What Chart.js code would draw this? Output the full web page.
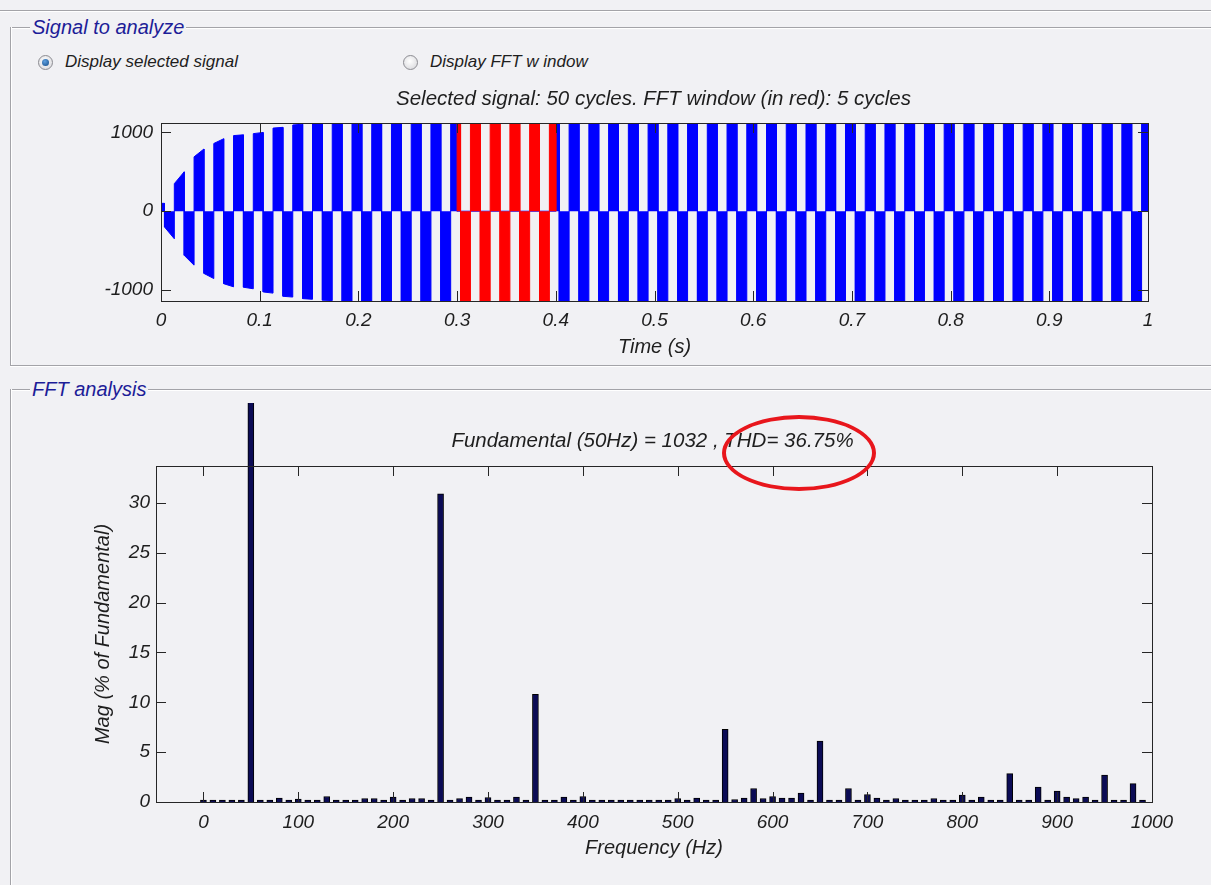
<!DOCTYPE html>
<html>
<head>
<meta charset="utf-8">
<title>Signal to analyze / FFT analysis</title>
<script src="https://cdn.jsdelivr.net/npm/chart.js@4.4.1/dist/chart.umd.min.js"></script>
<style>
  html, body { margin: 0; padding: 0; }
  body { width: 1211px; height: 885px; background: #f1f1f4; position: relative; overflow: hidden;
         font-family: 'Liberation Sans', Arial, sans-serif; }
  .rule  { position: absolute; height: 0; border-top: 1px solid #a3a3a8; box-shadow: 0 1px 0 #fff; }
  .vrule { position: absolute; width: 0; border-left: 1px solid #a3a3a8; box-shadow: 1px 0 0 #fff; }
  .panel { position: absolute; font-style: italic; font-size: 20px; line-height: 22px; color: #1d1d98;
           background: #f1f1f4; padding: 0 2px; }
  .radio { position: absolute; width: 15px; height: 15px; border-radius: 50%; box-sizing: border-box;
           border: 1px solid #8c8c92; background: radial-gradient(circle at 45% 40%, #ffffff, #d4d4d8); }
  .radio.on::after { content: ''; position: absolute; left: 3px; top: 3px; width: 7px; height: 7px;
           border-radius: 50%; background: radial-gradient(circle at 40% 35%, #5fa0e0, #134a86); }
  .opt   { position: absolute; font-style: italic; font-size: 17px; line-height: 20px; color: #1e1e1e; }
  canvas { position: absolute; left: 0; }
  #ring  { position: absolute; left: 722px; top: 415px; width: 154px; height: 76px; box-sizing: border-box;
           border: 4px solid #e8161c; border-radius: 50%; }
</style>
</head>
<body>
<div class="rule" style="left:0;top:10px;width:1211px"></div>

<div class="rule" style="left:10px;top:27px;width:1201px"></div>
<div class="vrule" style="left:10px;top:27px;height:338px"></div>
<div class="rule" style="left:10px;top:365px;width:1201px"></div>
<div class="panel" style="left:30px;top:16px">Signal to analyze</div>

<div class="radio on" style="left:38px;top:55px"></div>
<div class="opt" style="left:65px;top:52px">Display selected signal</div>
<div class="radio" style="left:403px;top:55px"></div>
<div class="opt" style="left:430px;top:52px">Display FFT w indow</div>

<div class="rule" style="left:10px;top:389px;width:1201px"></div>
<div class="vrule" style="left:10px;top:389px;height:496px"></div>
<div class="panel" style="left:30px;top:378px">FFT analysis</div>

<!-- canvases run past the right edge so the chart titles centre over the plot boxes -->
<canvas id="sigChart" width="1307" height="285" style="top:80px"></canvas>
<canvas id="fftChart" width="1305" height="490" style="top:395px"></canvas>
<div id="ring"></div>

<script>
/* powergui FFT screen: selected signal (top) and its harmonic spectrum (bottom). */

// signal: one entry per half cycle (start time s, level at start / end of the half cycle)
var HALF_T0 = [0,
  0.0035,0.0135,0.0235,0.0335,0.0435,0.0535,0.0635,0.0735,0.0835,0.0935,
  0.1035,0.1135,0.1235,0.1335,0.1435,0.1535,0.1635,0.1735,0.1835,0.1935,
  0.2035,0.2135,0.2235,0.2335,0.2435,0.2535,0.2635,0.2735,0.2835,0.2935,
  0.3035,0.3135,0.3235,0.3335,0.3435,0.3535,0.3635,0.3735,0.3835,0.3935,
  0.4035,0.4135,0.4235,0.4335,0.4435,0.4535,0.4635,0.4735,0.4835,0.4935,
  0.5035,0.5135,0.5235,0.5335,0.5435,0.5535,0.5635,0.5735,0.5835,0.5935,
  0.6035,0.6135,0.6235,0.6335,0.6435,0.6535,0.6635,0.6735,0.6835,0.6935,
  0.7035,0.7135,0.7235,0.7335,0.7435,0.7535,0.7635,0.7735,0.7835,0.7935,
  0.8035,0.8135,0.8235,0.8335,0.8435,0.8535,0.8635,0.8735,0.8835,0.8935,
  0.9035,0.9135,0.9235,0.9335,0.9435,0.9535,0.9635,0.9735,0.9835,0.9935];
var SIG_END = 1;
var HALF_A0 = [
  100,-200,350,-560,690,-790,860,-920,960,-965,
  985,-1025,1055,-1080,1095,-1110,1160,-1130,1160,-1160,
  1160,-1160,1160,-1160,1160,-1160,1160,-1160,1160,-1160,
  1160,-1160,1160,-1160,1160,-1160,1160,-1160,1160,-1160,
  1160,-1160,1160,-1160,1160,-1160,1160,-1160,1160,-1160,
  1160,-1160,1160,-1160,1160,-1160,1160,-1160,1160,-1160,
  1160,-1160,1160,-1160,1160,-1160,1160,-1160,1160,-1160,
  1160,-1160,1160,-1160,1160,-1160,1160,-1160,1160,-1160,
  1160,-1160,1160,-1160,1160,-1160,1160,-1160,1160,-1160,
  1160,-1160,1160,-1160,1160,-1160,1160,-1160,1160,-1160,
  1160];
var HALF_A1 = [
  100,-350,500,-685,790,-855,920,-960,970,-985,
  1000,-1040,1065,-1090,1105,-1118,1160,-1135,1160,-1160,
  1160,-1160,1160,-1160,1160,-1160,1160,-1160,1160,-1160,
  1160,-1160,1160,-1160,1160,-1160,1160,-1160,1160,-1160,
  1160,-1160,1160,-1160,1160,-1160,1160,-1160,1160,-1160,
  1160,-1160,1160,-1160,1160,-1160,1160,-1160,1160,-1160,
  1160,-1160,1160,-1160,1160,-1160,1160,-1160,1160,-1160,
  1160,-1160,1160,-1160,1160,-1160,1160,-1160,1160,-1160,
  1160,-1160,1160,-1160,1160,-1160,1160,-1160,1160,-1160,
  1160,-1160,1160,-1160,1160,-1160,1160,-1160,1160,-1160,
  1160];
var WIN_T0 = 0.3, WIN_T1 = 0.4;          // FFT window, drawn in red
var TIME_TICKS = [0,0.1,0.2,0.3,0.4,0.5,0.6,0.7,0.8,0.9,1];
var SIG_YTICKS = [-1000,0,1000];

// spectrum: 10 Hz bins, % of fundamental (50 Hz bin runs off the top)
var FREQ = [
  0,10,20,30,40,50,60,70,80,90,
  100,110,120,130,140,150,160,170,180,190,
  200,210,220,230,240,250,260,270,280,290,
  300,310,320,330,340,350,360,370,380,390,
  400,410,420,430,440,450,460,470,480,490,
  500,510,520,530,540,550,560,570,580,590,
  600,610,620,630,640,650,660,670,680,690,
  700,710,720,730,740,750,760,770,780,790,
  800,810,820,830,840,850,860,870,880,890,
  900,910,920,930,940,950,960,970,980,990];
var MAG = [
  0.2,0.2,0.2,0.2,0.2,100,0.2,0.2,0.4,0.2,
  0.3,0.2,0.2,0.55,0.2,0.2,0.2,0.35,0.35,0.2,
  0.5,0.2,0.35,0.35,0.2,30.9,0.2,0.35,0.5,0.2,
  0.45,0.2,0.2,0.5,0.2,10.8,0.2,0.2,0.5,0.2,
  0.55,0.2,0.2,0.2,0.2,0.2,0.2,0.2,0.2,0.2,
  0.35,0.2,0.4,0.2,0.2,7.3,0.25,0.4,1.35,0.35,
  0.55,0.4,0.4,0.9,0.2,6.1,0.2,0.2,1.35,0.2,
  0.75,0.4,0.2,0.35,0.2,0.2,0.2,0.35,0.2,0.2,
  0.7,0.2,0.5,0.2,0.2,2.85,0.2,0.2,1.5,0.2,
  1.1,0.5,0.35,0.5,0.2,2.7,0.2,0.2,1.85,0.2];
var FREQ_TICKS = [0,100,200,300,400,500,600,700,800,900,1000];
var FFT_YTICKS = [0,5,10,15,20,25,30];

(function () {
  var BLUE = '#0000ff', RED = '#ff0000', NAVY = '#0b0b55', INK = '#1e1e1e', FRAME = '#262626',
      FONT = "'Liberation Sans', Arial, sans-serif";

  function italic(size) { return { family: FONT, size: size, style: 'italic', weight: 'normal' }; }

  // stepped outline of the half cycles that fall inside [lo, hi]
  function blockPoints(lo, hi) {
    var pts = [];
    for (var i = 0; i < HALF_T0.length; i++) {
      var t0 = HALF_T0[i], t1 = i + 1 < HALF_T0.length ? HALF_T0[i + 1] : SIG_END;
      var a = Math.max(t0, lo), b = Math.min(t1, hi);
      if (b <= a) continue;
      var k = (HALF_A1[i] - HALF_A0[i]) / (t1 - t0);
      pts.push({ x: a, y: 0 }, { x: a, y: HALF_A0[i] + k * (a - t0) },
               { x: b, y: HALF_A0[i] + k * (b - t0) }, { x: b, y: 0 });
    }
    return pts;
  }

  // matlab-style box with inward ticks on all four sides
  var boxAxes = {
    id: 'boxAxes',
    afterDatasetsDraw: function (chart) {
      var a = chart.chartArea, c = chart.ctx, sx = chart.scales.x, sy = chart.scales.y, L = 10;
      c.save();
      c.strokeStyle = FRAME; c.lineWidth = 1;
      c.beginPath();
      sx.ticks.forEach(function (t) {
        var p = Math.round(sx.getPixelForValue(t.value)) + .5;
        c.moveTo(p, a.bottom); c.lineTo(p, a.bottom - L);
        c.moveTo(p, a.top); c.lineTo(p, a.top + L);
      });
      sy.ticks.forEach(function (t) {
        var p = Math.round(sy.getPixelForValue(t.value)) + .5;
        c.moveTo(a.left, p); c.lineTo(a.left + L, p);
        c.moveTo(a.right, p); c.lineTo(a.right - L, p);
      });
      c.stroke();
      c.strokeRect(Math.round(a.left) + .5, Math.round(a.top) + .5,
                   Math.round(a.right - a.left), Math.round(a.bottom - a.top));
      c.restore();
    }
  };

  function tickList(arr) { return function (s) { s.ticks = arr.map(function (v) { return { value: v }; }); }; }
  function plain(v) { return String(v); }
  // empty right-hand axis that only reserves room
  function spacer(w) {
    return { position: 'right', display: true, grid: { display: false, drawTicks: false }, border: { display: false },
             ticks: { display: false }, afterFit: function (s) { s.width = w; } };
  }

  function build() {
    if (typeof Chart === 'undefined') return;

    new Chart(document.getElementById('sigChart'), {
      type: 'line',
      data: { datasets: [
        { label: 'FFT window', data: blockPoints(WIN_T0, WIN_T1), order: 0,
          borderColor: RED, backgroundColor: RED, borderWidth: 1, pointRadius: 0, tension: 0, fill: 'origin' },
        { label: 'Signal', data: blockPoints(0, WIN_T0).concat(blockPoints(WIN_T1, SIG_END)), order: 1,
          borderColor: BLUE, backgroundColor: BLUE, borderWidth: 1, pointRadius: 0, tension: 0, fill: 'origin' }
      ] },
      options: {
        responsive: false, animation: false, events: [],
        layout: { padding: 0 },
        plugins: {
          legend: { display: false }, tooltip: { enabled: false },
          title: { display: true, text: 'Selected signal: 50 cycles. FFT window (in red): 5 cycles',
                   font: italic(20.5), color: INK, padding: { top: 7, bottom: 11.4 } }
        },
        scales: {
          x: { type: 'linear', min: 0, max: 1, offset: false,
               grid: { display: false, drawTicks: false }, border: { display: false },
               afterBuildTicks: tickList(TIME_TICKS),
               afterFit: function (s) { s.height = 64; },
               ticks: { font: italic(19), color: INK, padding: 8, maxRotation: 0, autoSkip: false, callback: plain },
               title: { display: true, text: 'Time (s)', font: italic(20), color: INK, padding: { top: 0, bottom: 6 } } },
          y: { min: -1140, max: 1120,
               grid: { display: false, drawTicks: false }, border: { display: false },
               afterBuildTicks: tickList(SIG_YTICKS),
               afterFit: function (s) { s.width = 161; },
               ticks: { font: italic(19), color: INK, padding: 8, callback: plain } },
          pad: spacer(159)
        }
      },
      plugins: [boxAxes]
    });

    new Chart(document.getElementById('fftChart'), {
      type: 'bar',
      data: { datasets: [
        { label: 'Mag', data: FREQ.map(function (f, i) { return { x: f, y: MAG[i] }; }),
          backgroundColor: NAVY, borderColor: '#000', borderWidth: 1, barThickness: 6,
          clip: { left: 0, top: 63, right: 0, bottom: 0 } }
      ] },
      options: {
        responsive: false, animation: false, events: [],
        layout: { padding: 0 },
        plugins: {
          legend: { display: false }, tooltip: { enabled: false },
          title: { display: true, text: 'Fundamental (50Hz) = 1032 , THD= 36.75%',
                   font: italic(20.5), color: INK, padding: { top: 34, bottom: 12.4 } }
        },
        scales: {
          x: { type: 'linear', min: -50, max: 1000, offset: false,
               grid: { display: false, drawTicks: false }, border: { display: false },
               afterBuildTicks: tickList(FREQ_TICKS),
               afterFit: function (s) { s.height = 83; },
               ticks: { font: italic(19), color: INK, padding: 9, maxRotation: 0, autoSkip: false, callback: plain },
               title: { display: true, text: 'Frequency (Hz)', font: italic(20), color: INK, padding: { top: 0, bottom: 25 } } },
          y: { min: 0, max: 33.7,
               grid: { display: false, drawTicks: false }, border: { display: false },
               afterBuildTicks: tickList(FFT_YTICKS),
               afterFit: function (s) { s.width = 156; },
               ticks: { font: italic(19), color: INK, padding: 6, callback: plain },
               title: { display: true, text: 'Mag (% of Fundamental)', font: italic(20), color: INK, padding: { top: 91, bottom: 0 } } },
          pad: spacer(153)
        }
      },
      plugins: [boxAxes]
    });
  }

  if (document.readyState === 'loading') document.addEventListener('DOMContentLoaded', build);
  else build();
})();
</script>
</body>
</html>
